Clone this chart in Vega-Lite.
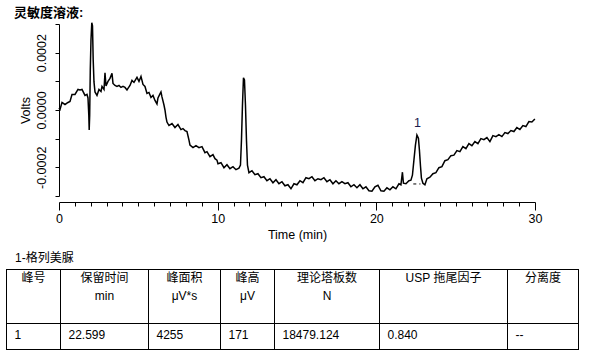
{
  "$schema": "https://vega.github.io/schema/vega-lite/v6.json",
  "width": 597,
  "height": 362,
  "autosize": {"type": "none"},
  "padding": 0,
  "background": "white",
  "config": {"view": {"stroke": null}, "font": "Liberation Sans, Noto Sans CJK SC"},
  "datasets": {
    "trace": [
      {"t":0.000,"v":7e-6},{"t":0.063,"v":1.75e-6},{"t":0.189,"v":26.25e-6},{"t":0.378,"v":19.25e-6},{"t":0.567,"v":26.25e-6},
      {"t":0.693,"v":29.75e-6},{"t":0.819,"v":54.25e-6},{"t":1.008,"v":54.25e-6},{"t":1.197,"v":71.75e-6},{"t":1.323,"v":70e-6},
      {"t":1.449,"v":71.75e-6},{"t":1.638,"v":50.75e-6},{"t":1.764,"v":54.25e-6},{"t":1.827,"v":42e-6},{"t":1.878,"v":-17.5e-6},
      {"t":1.903,"v":-70e-6},{"t":1.934,"v":-17.5e-6},{"t":1.972,"v":140e-6},{"t":2.016,"v":245e-6},{"t":2.067,"v":304.5e-6},
      {"t":2.111,"v":294e-6},{"t":2.155,"v":175e-6},{"t":2.205,"v":98e-6},{"t":2.268,"v":63e-6},{"t":2.394,"v":50.75e-6},
      {"t":2.520,"v":71.75e-6},{"t":2.647,"v":64.75e-6},{"t":2.710,"v":82.25e-6},{"t":2.836,"v":71.75e-6},{"t":2.899,"v":129.5e-6},
      {"t":2.962,"v":84e-6},{"t":3.088,"v":99.75e-6},{"t":3.214,"v":110.25e-6},{"t":3.340,"v":127.75e-6},{"t":3.403,"v":92.75e-6},
      {"t":3.529,"v":85.75e-6},{"t":3.655,"v":82.25e-6},{"t":3.781,"v":85.75e-6},{"t":3.907,"v":78.75e-6},{"t":4.033,"v":82.25e-6},
      {"t":4.159,"v":78.75e-6},{"t":4.285,"v":70e-6},{"t":4.348,"v":75.25e-6},{"t":4.474,"v":85.75e-6},{"t":4.600,"v":103.25e-6},
      {"t":4.726,"v":96.25e-6},{"t":4.915,"v":113.75e-6},{"t":5.041,"v":99.75e-6},{"t":5.167,"v":117.25e-6},{"t":5.293,"v":89.25e-6},
      {"t":5.419,"v":82.25e-6},{"t":5.545,"v":57.75e-6},{"t":5.671,"v":61.25e-6},{"t":5.797,"v":43.75e-6},{"t":5.923,"v":50.75e-6},
      {"t":6.049,"v":33.25e-6},{"t":6.175,"v":21e-6},{"t":6.238,"v":42e-6},{"t":6.364,"v":56e-6},{"t":6.427,"v":63e-6},
      {"t":6.490,"v":45.5e-6},{"t":6.616,"v":17.5e-6},{"t":6.679,"v":0},{"t":6.742,"v":-24.5e-6},{"t":6.805,"v":-42e-6},
      {"t":6.931,"v":-54.25e-6},{"t":7.120,"v":-47.25e-6},{"t":7.309,"v":-61.25e-6},{"t":7.498,"v":-50.75e-6},{"t":7.687,"v":-68.25e-6},
      {"t":7.813,"v":-64.75e-6},{"t":7.940,"v":-71.75e-6},{"t":8.066,"v":-75.25e-6},{"t":8.192,"v":-105e-6},{"t":8.255,"v":-122.5e-6},
      {"t":8.444,"v":-131.25e-6},{"t":8.633,"v":-124.25e-6},{"t":8.822,"v":-131.25e-6},{"t":9.011,"v":-127.75e-6},{"t":9.200,"v":-148.75e-6},
      {"t":9.326,"v":-145.25e-6},{"t":9.515,"v":-162.75e-6},{"t":9.704,"v":-155.75e-6},{"t":9.830,"v":-169.75e-6},{"t":9.956,"v":-175e-6},
      {"t":10.019,"v":-187.25e-6},{"t":10.208,"v":-183.75e-6},{"t":10.397,"v":-201.25e-6},{"t":10.586,"v":-190.75e-6},{"t":10.775,"v":-204.75e-6},
      {"t":10.964,"v":-197.75e-6},{"t":11.153,"v":-208.25e-6},{"t":11.342,"v":-203e-6},{"t":11.437,"v":-192.5e-6},{"t":11.500,"v":-105e-6},
      {"t":11.563,"v":17.5e-6},{"t":11.626,"v":112e-6},{"t":11.689,"v":105e-6},{"t":11.752,"v":17.5e-6},{"t":11.815,"v":-105e-6},
      {"t":11.878,"v":-192.5e-6},{"t":11.972,"v":-218.75e-6},{"t":12.161,"v":-211.75e-6},{"t":12.350,"v":-225.75e-6},{"t":12.539,"v":-222.25e-6},
      {"t":12.728,"v":-236.25e-6},{"t":12.917,"v":-232.75e-6},{"t":13.106,"v":-246.75e-6},{"t":13.296,"v":-239.75e-6},{"t":13.485,"v":-253.75e-6},
      {"t":13.674,"v":-243.25e-6},{"t":13.863,"v":-257.25e-6},{"t":14.052,"v":-250.25e-6},{"t":14.241,"v":-264.25e-6},{"t":14.430,"v":-260.75e-6},
      {"t":14.619,"v":-274.75e-6},{"t":14.808,"v":-257.25e-6},{"t":14.997,"v":-260.75e-6},{"t":15.186,"v":-246.75e-6},{"t":15.375,"v":-253.75e-6},
      {"t":15.564,"v":-236.25e-6},{"t":15.753,"v":-239.75e-6},{"t":15.942,"v":-232.75e-6},{"t":16.131,"v":-246.75e-6},{"t":16.320,"v":-239.75e-6},
      {"t":16.509,"v":-243.25e-6},{"t":16.698,"v":-236.25e-6},{"t":16.887,"v":-250.25e-6},{"t":17.076,"v":-243.25e-6},{"t":17.265,"v":-257.25e-6},
      {"t":17.454,"v":-246.75e-6},{"t":17.643,"v":-257.25e-6},{"t":17.832,"v":-250.25e-6},{"t":18.021,"v":-257.25e-6},{"t":18.210,"v":-253.75e-6},
      {"t":18.399,"v":-267.75e-6},{"t":18.589,"v":-260.75e-6},{"t":18.778,"v":-271.25e-6},{"t":18.967,"v":-260.75e-6},{"t":19.156,"v":-274.75e-6},
      {"t":19.345,"v":-267.75e-6},{"t":19.534,"v":-281.75e-6},{"t":19.723,"v":-283.5e-6},{"t":19.912,"v":-267.75e-6},{"t":20.101,"v":-262.5e-6},
      {"t":20.290,"v":-281.75e-6},{"t":20.479,"v":-283.5e-6},{"t":20.668,"v":-271.25e-6},{"t":20.857,"v":-278.25e-6},{"t":21.046,"v":-267.75e-6},
      {"t":21.235,"v":-274.75e-6},{"t":21.424,"v":-257.25e-6},{"t":21.550,"v":-260.75e-6},{"t":21.645,"v":-217e-6},{"t":21.708,"v":-255.5e-6},
      {"t":21.865,"v":-257.25e-6},{"t":22.054,"v":-246.75e-6},{"t":22.180,"v":-245e-6},{"t":22.275,"v":-227.5e-6},{"t":22.369,"v":-175e-6},
      {"t":22.464,"v":-122.5e-6},{"t":22.558,"v":-87.5e-6},{"t":22.653,"v":-98e-6},{"t":22.716,"v":-140e-6},{"t":22.779,"v":-192.5e-6},
      {"t":22.842,"v":-238e-6},{"t":22.936,"v":-255.5e-6},{"t":23.062,"v":-260.75e-6},{"t":23.188,"v":-239.75e-6},{"t":23.377,"v":-234.5e-6},
      {"t":23.566,"v":-222.25e-6},{"t":23.755,"v":-218.75e-6},{"t":23.944,"v":-201.25e-6},{"t":24.133,"v":-197.75e-6},{"t":24.323,"v":-176.75e-6},
      {"t":24.512,"v":-173.25e-6},{"t":24.701,"v":-159.25e-6},{"t":24.890,"v":-157.5e-6},{"t":25.079,"v":-141.75e-6},{"t":25.268,"v":-145.25e-6},
      {"t":25.457,"v":-127.75e-6},{"t":25.646,"v":-134.75e-6},{"t":25.835,"v":-117.25e-6},{"t":26.024,"v":-124.25e-6},{"t":26.213,"v":-110.25e-6},
      {"t":26.402,"v":-117.25e-6},{"t":26.591,"v":-99.75e-6},{"t":26.780,"v":-103.25e-6},{"t":26.969,"v":-96.25e-6},{"t":27.158,"v":-110.25e-6},
      {"t":27.347,"v":-89.25e-6},{"t":27.536,"v":-92.75e-6},{"t":27.725,"v":-85.75e-6},{"t":27.914,"v":-92.75e-6},{"t":28.103,"v":-78.75e-6},
      {"t":28.292,"v":-82.25e-6},{"t":28.481,"v":-71.75e-6},{"t":28.670,"v":-75.25e-6},{"t":28.859,"v":-61.25e-6},{"t":29.048,"v":-68.25e-6},
      {"t":29.237,"v":-54.25e-6},{"t":29.426,"v":-57.75e-6},{"t":29.615,"v":-40.25e-6},{"t":29.804,"v":-42e-6},{"t":29.993,"v":-31.5e-6}
    ],
    "peaks": [{"t": 22.599, "v": -87.5e-6, "label": "1"}],
    "baseline": [{"t": 22.33, "t2": 22.78, "v": -258e-6, "v2": -258e-6}],
    "heading": [{"role": "heading", "text": "灵敏度溶液:"}],
    "caption": [{"role": "caption", "text": "1-格列美脲"}],
    "hlines": [{"row": 0}, {"row": 1}, {"row": 2}],
    "vlines": [{"col": 0}, {"col": 1}, {"col": 2}, {"col": 3}, {"col": 4}, {"col": 5}, {"col": 6}, {"col": 7}],
    "header": [
      {"col": 0, "text": "峰号"},
      {"col": 1, "text": "保留时间\nmin"},
      {"col": 2, "text": "峰面积\nμV*s"},
      {"col": 3, "text": "峰高\nμV"},
      {"col": 4, "text": "理论塔板数\nN"},
      {"col": 5, "text": "USP 拖尾因子"},
      {"col": 6, "text": "分离度"}
    ],
    "body": [
      {"col": 0, "text": "1"},
      {"col": 1, "text": "22.599"},
      {"col": 2, "text": "4255"},
      {"col": 3, "text": "171"},
      {"col": 4, "text": "18479.124"},
      {"col": 5, "text": "0.840"},
      {"col": 6, "text": "--"}
    ]
  },
  "layer": [
    {
      "data": {"name": "trace"},
      "mark": {"type": "line", "color": "black", "strokeWidth": 1.5},
      "encoding": {
        "x": {
          "field": "t", "type": "quantitative",
          "scale": {"domain": [0, 30], "range": [59, 535], "nice": false, "zero": false},
          "axis": {
            "title": "Time (min)",
            "values": [0,1,2,3,4,5,6,7,8,9,10,11,12,13,14,15,16,17,18,19,20,21,22,23,24,25,26,27,28,29,30],
            "labelExpr": "datum.value % 10 === 0 ? format(datum.value, 'd') : ''",
            "tickSize": {"condition": {"test": "datum.value % 10 === 0", "value": 8}, "value": 4},
            "offset": -160,
            "grid": false,
            "domainColor": "black", "tickColor": "black", "labelColor": "black", "titleColor": "black",
            "labelFontSize": 12.5, "titleFontSize": 12.5, "titleFontWeight": "normal",
            "labelPadding": 2, "titlePadding": 4, "labelFlush": false, "labelOverlap": false
          }
        },
        "y": {
          "field": "v", "type": "quantitative",
          "scale": {"domain": [-0.0003, 0.0003], "range": [196, 24], "nice": false, "zero": false},
          "axis": {
            "title": "Volts",
            "values": [-0.0003, -0.0002, -0.0001, 0, 0.0001, 0.0002, 0.0003],
            "labelExpr": "datum.value > 0.00015 && datum.value < 0.00025 ? '0.0002' : (datum.value < -0.00015 && datum.value > -0.00025 ? '-0.0002' : (abs(datum.value) < 0.00005 ? '0.0000' : ''))",
            "labelAngle": -90, "labelAlign": "center", "labelBaseline": "alphabetic",
            "tickSize": 4, "offset": -59, "grid": false,
            "domainColor": "black", "tickColor": "black", "labelColor": "black", "titleColor": "black",
            "labelFontSize": 12.5, "titleFontSize": 12.5, "titleFontWeight": "normal",
            "labelPadding": 10, "titlePadding": 3, "labelOverlap": false
          }
        }
      }
    },
    {
      "data": {"name": "peaks"},
      "mark": {"type": "text", "baseline": "alphabetic", "align": "center", "dy": -8, "fontSize": 12.5, "color": "#1a1a4d"},
      "encoding": {
        "x": {"field": "t", "type": "quantitative", "scale": {"domain": [0, 30], "range": [59, 535], "nice": false, "zero": false}, "axis": null},
        "y": {"field": "v", "type": "quantitative", "scale": {"domain": [-0.0003, 0.0003], "range": [196, 24], "nice": false, "zero": false}, "axis": null},
        "text": {"field": "label"}
      }
    },
    {
      "data": {"name": "baseline"},
      "mark": {"type": "rule", "color": "black", "strokeDash": [3, 3], "strokeWidth": 1},
      "encoding": {
        "x": {"field": "t", "type": "quantitative", "scale": {"domain": [0, 30], "range": [59, 535], "nice": false, "zero": false}, "axis": null},
        "x2": {"field": "t2"},
        "y": {"field": "v", "type": "quantitative", "scale": {"domain": [-0.0003, 0.0003], "range": [196, 24], "nice": false, "zero": false}, "axis": null},
        "y2": {"field": "v2"}
      }
    },
    {
      "data": {"name": "heading"},
      "mark": {"type": "text", "align": "left", "baseline": "middle", "fontSize": 13, "fontWeight": "bold", "color": "black"},
      "encoding": {
        "x": {"field": "role", "type": "nominal", "scale": {"type": "point", "domain": ["heading"], "range": [14, 14], "padding": 0}, "axis": null},
        "y": {"field": "role", "type": "nominal", "scale": {"type": "point", "domain": ["heading"], "range": [12.5, 12.5], "padding": 0}, "axis": null},
        "text": {"field": "text"}
      }
    },
    {
      "data": {"name": "caption"},
      "mark": {"type": "text", "align": "left", "baseline": "middle", "fontSize": 12, "color": "black"},
      "encoding": {
        "x": {"field": "role", "type": "nominal", "scale": {"type": "point", "domain": ["caption"], "range": [15, 15], "padding": 0}, "axis": null},
        "y": {"field": "role", "type": "nominal", "scale": {"type": "point", "domain": ["caption"], "range": [257.5, 257.5], "padding": 0}, "axis": null},
        "text": {"field": "text"}
      }
    },
    {
      "data": {"name": "hlines"},
      "mark": {"type": "rule", "color": "black", "strokeWidth": 1, "strokeCap": "square"},
      "encoding": {
        "y": {"field": "row", "type": "quantitative", "scale": {"domain": [0, 1, 2], "range": [269.5, 323.5, 349.5], "nice": false, "zero": false}, "axis": null},
        "x": {"datum": 0, "type": "quantitative", "scale": {"domain": [0, 1, 2, 3, 4, 5, 6, 7], "range": [6.5, 60.5, 148.5, 220.5, 274.5, 379.5, 507.5, 578.5], "nice": false, "zero": false}, "axis": null},
        "x2": {"datum": 7}
      }
    },
    {
      "data": {"name": "vlines"},
      "mark": {"type": "rule", "color": "black", "strokeWidth": 1, "strokeCap": "square"},
      "encoding": {
        "x": {"field": "col", "type": "quantitative", "scale": {"domain": [0, 1, 2, 3, 4, 5, 6, 7], "range": [6.5, 60.5, 148.5, 220.5, 274.5, 379.5, 507.5, 578.5], "nice": false, "zero": false}, "axis": null},
        "y": {"datum": 0, "type": "quantitative", "scale": {"domain": [0, 1, 2], "range": [269.5, 323.5, 349.5], "nice": false, "zero": false}, "axis": null},
        "y2": {"datum": 2}
      }
    },
    {
      "data": {"name": "header"},
      "mark": {"type": "text", "align": "center", "baseline": "top", "dy": 3, "lineBreak": "\n", "lineHeight": 18, "fontSize": 12, "color": "black"},
      "encoding": {
        "x": {"field": "col", "type": "quantitative", "scale": {"domain": [0, 1, 2, 3, 4, 5, 6], "range": [33.5, 104.5, 184.5, 247.5, 327, 443.5, 543], "nice": false, "zero": false}, "axis": null},
        "y": {"datum": 0, "type": "quantitative", "scale": {"domain": [0, 1, 2], "range": [269.5, 323.5, 349.5], "nice": false, "zero": false}, "axis": null},
        "text": {"field": "text"}
      }
    },
    {
      "data": {"name": "body"},
      "mark": {"type": "text", "align": "left", "baseline": "middle", "dx": 8, "dy": 11, "fontSize": 12, "color": "black"},
      "encoding": {
        "x": {"field": "col", "type": "quantitative", "scale": {"domain": [0, 1, 2, 3, 4, 5, 6, 7], "range": [6.5, 60.5, 148.5, 220.5, 274.5, 379.5, 507.5, 578.5], "nice": false, "zero": false}, "axis": null},
        "y": {"datum": 1, "type": "quantitative", "scale": {"domain": [0, 1, 2], "range": [269.5, 323.5, 349.5], "nice": false, "zero": false}, "axis": null},
        "text": {"field": "text"}
      }
    }
  ],
  "resolve": {"scale": {"x": "independent", "y": "independent"}}
}
